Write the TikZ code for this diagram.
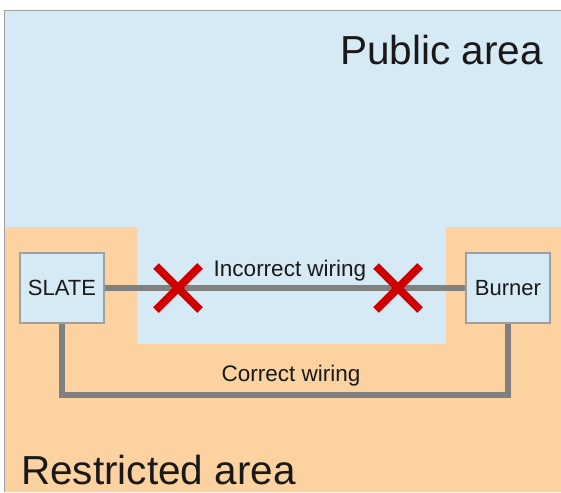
\documentclass[tikz,border=0pt]{standalone}
\usepackage{fontspec}
\setmainfont{Liberation Sans}
\usetikzlibrary{shapes.misc}
\definecolor{pubblue}{RGB}{214,234,246}
\definecolor{resorange}{RGB}{252,210,160}
\definecolor{wiregray}{RGB}{128,128,128}
\definecolor{boxgray}{RGB}{160,160,160}
\definecolor{xred}{RGB}{208,0,0}
\definecolor{txt}{RGB}{25,25,25}
\tikzset{
  devbox/.style={draw=boxgray, line width=1.2pt, fill=pubblue, minimum width=84pt, minimum height=70pt, inner sep=0pt, text=txt, font=\fontsize{22}{24}\selectfont},
  wire/.style={draw=wiregray, line width=6pt},
  lbl/.style={inner sep=0pt, text=txt, font=\fontsize{22.5}{24}\selectfont},
  big/.style={inner sep=0pt, text=txt, font=\fontsize{40.5}{44}\selectfont},
  xmark/.style={cross out, draw=xred, line width=8pt, minimum size=36pt, inner sep=0pt}
}
\begin{document}
\begin{tikzpicture}[x=1pt,y=-1pt]
\useasboundingbox (0,0) rectangle (561,492);
\fill[white] (0,0) rectangle (561,492);
\fill[pubblue] (5,10) -- (561,10) -- (561,227) -- (446,227) -- (446,344) -- (137,344) -- (137,227) -- (5,227) -- cycle;
\fill[resorange] (5,227) -- (137,227) -- (137,344) -- (446,344) -- (446,227) -- (561,227) -- (561,492) -- (5,492) -- cycle;
\draw[boxgray, line width=1.5pt] (4.5,492) -- (4.5,10.5) -- (561,10.5);
\node[big, anchor=base east] (pub) at (543,65) {Public area};
\node[big, anchor=base west] (res) at (21,484) {Restricted area};
\node[devbox] (slate) at (62,288) {SLATE};
\node[devbox] (burner) at (508,288) {Burner};
\coordinate (cw) at (290,395);
\draw[wire] (slate.east) -- (burner.west);
\draw[wire, line join=miter] (slate.south) |- (cw) -| (burner.south);
\node[lbl] (inc) at (290,271) {Incorrect wiring};
\node[lbl] (cor) at (291,376) {Correct wiring};
\node[xmark] (x1) at (178,288) {};
\node[xmark] (x2) at (398,288) {};
\end{tikzpicture}
\end{document}
